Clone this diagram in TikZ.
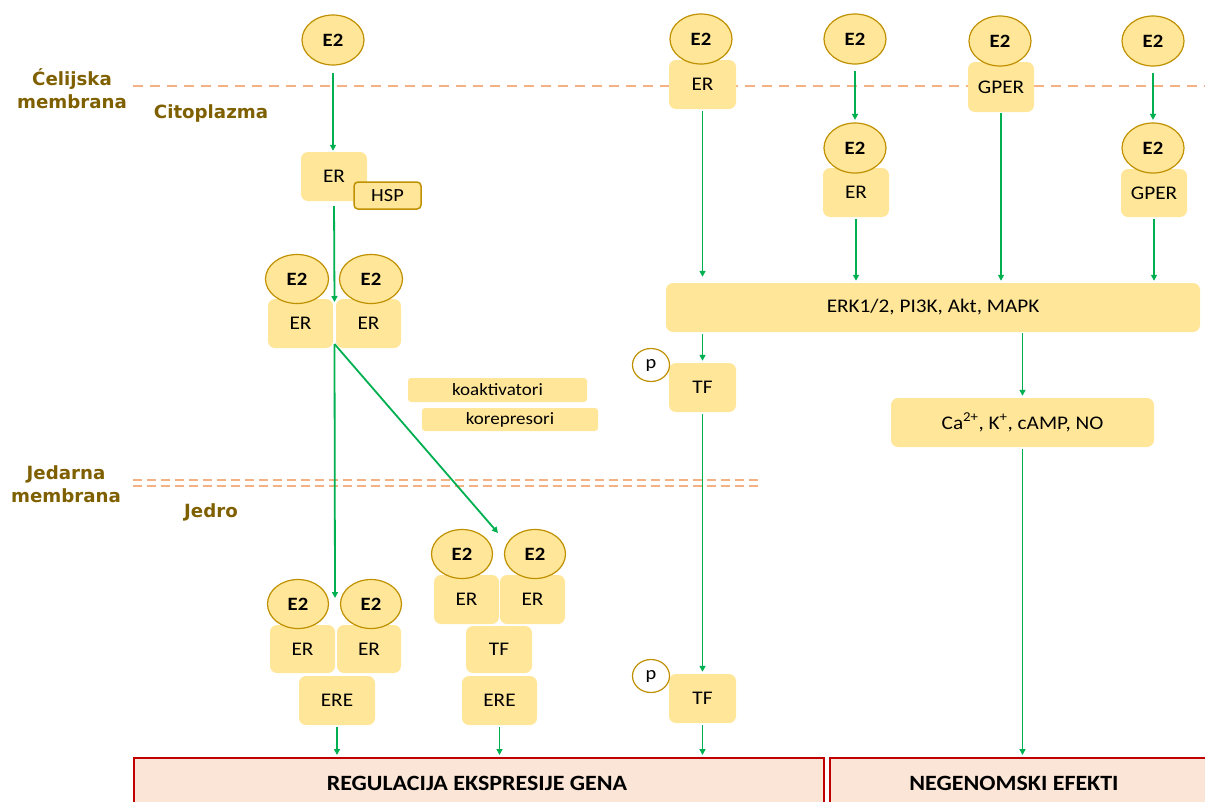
\documentclass[tikz,border=0pt]{standalone}
\usepackage{fontspec}
\setmainfont{Carlito}[FakeStretch=1.1]
\newfontfamily\lblfont{DejaVu Sans}
\usetikzlibrary{shapes.geometric,arrows.meta}
\definecolor{yel}{HTML}{FFE699}
\definecolor{gold}{HTML}{BF9000}
\definecolor{grn}{HTML}{00B050}
\definecolor{memb}{HTML}{F4B183}
\definecolor{olive}{HTML}{7F6000}
\definecolor{pinkbg}{HTML}{FBE5D6}
\definecolor{redb}{HTML}{C00000}
\begin{document}
\begin{tikzpicture}[x=1pt,y=-1pt,
  e2/.style={ellipse, draw=gold, fill=yel, line width=1.2pt, minimum width=62pt, minimum height=50pt, inner sep=0pt, font=\fontsize{18.8}{20}\selectfont\bfseries},
  rbox/.style={rectangle, rounded corners=7pt, fill=yel, minimum width=66pt, minimum height=49pt, inner sep=0pt, font=\fontsize{19.3}{21}\selectfont},
  sbox/.style={rectangle, rounded corners=3pt, fill=yel, inner sep=0pt, font=\fontsize{17.3}{18}\selectfont},
  pcirc/.style={ellipse, draw=gold, fill=white, line width=1.2pt, minimum width=37pt, minimum height=33pt, inner sep=0pt, font=\fontsize{18.5}{18}\selectfont},
  lbl/.style={text=olive, align=center, font=\lblfont\bfseries\fontsize{18.2}{23}\selectfont},
  membl/.style={draw=memb, line width=2pt, dash pattern=on 10pt off 7pt},
  nmembl/.style={draw=memb, line width=2.4pt, dash pattern=on 9pt off 5pt},
  outbox/.style={rectangle, draw=redb, line width=2pt, fill=pinkbg},
  outtxt/.style={font=\fontsize{21.8}{24}\selectfont\bfseries},
  arr/.style={draw=grn, line width=1.8pt, -{Triangle[length=6pt,width=6pt]}}
]
\useasboundingbox (0,0) rectangle (1205,801);
\clip (0,0) rectangle (1205,801);

% membranes
\draw[membl] (133,86) -- (1205,86);
\draw[nmembl] (133,480) -- (762,480);
\draw[nmembl] (133,486) -- (762,486);

% labels
\node[lbl] (lcell) at (72,89) {Ćelijska\\membrana};
\node[lbl] (lcyto) at (211,113) {Citoplazma};
\node[lbl] (lnuc) at (66,484) {Jedarna\\membrana};
\node[lbl] (ljed) at (211,512) {Jedro};

% output boxes
\node[outbox, minimum width=690pt, minimum height=52pt, anchor=north west] (gen) at (133,757) {};
\node[outtxt] (gent) at (477,783) {REGULACIJA EKSPRESIJE GENA};
\node[outbox, minimum width=385pt, minimum height=52pt, anchor=north west] (neg) at (829,757) {};
\node[outtxt] (negt) at (1014,783) {NEGENOMSKI EFEKTI};

% column 1
\node[rbox] (er1) at (334,176.5) {ER};
\node[rectangle, rounded corners=4pt, draw=gold, line width=1.5pt, fill=yel, minimum width=67pt, minimum height=27pt, inner sep=0pt, font=\fontsize{18.5}{18}\selectfont] (hsp) at (387.5,195.5) {HSP};
\node[e2] (e2a) at (333,40) {E2};

\node[rbox, minimum width=65pt] (er2l) at (300.5,323.5) {ER};
\node[rbox, minimum width=65pt] (er2r) at (368.5,323.5) {ER};
\node[e2, minimum width=63pt, minimum height=49pt] (e2pl) at (297,279) {E2};
\node[e2, minimum width=63pt, minimum height=49pt] (e2pr) at (371,279) {E2};
\coordinate (j1top) at (334.5,302);
\coordinate (j1bot) at (334.5,344);

\node[sbox, minimum width=179pt, minimum height=24pt] (koak) at (497.5,390) {koaktivatori};
\node[sbox, minimum width=176pt, minimum height=23pt] (kore) at (510,419.5) {korepresori};

% bottom-left group
\node[rbox, minimum width=65pt, minimum height=48pt] (er5l) at (302.5,649) {ER};
\node[rbox, minimum width=64pt, minimum height=48pt] (er5r) at (369,649) {ER};
\node[e2, minimum width=61pt, minimum height=49pt] (e2bl) at (298,604) {E2};
\node[e2, minimum width=61pt, minimum height=49pt] (e2br) at (371,604) {E2};
\node[rbox, minimum width=76pt] (ere1) at (337,700.5) {ERE};
\coordinate (j2top) at (335,598);

% second group
\node[rbox, minimum width=65pt] (er6l) at (466.5,599.5) {ER};
\node[rbox, minimum width=65pt] (er6r) at (532.5,599.5) {ER};
\node[e2, minimum width=61pt, minimum height=49pt] (e2cl) at (462,554) {E2};
\node[e2, minimum width=61pt, minimum height=49pt] (e2cr) at (535,554) {E2};
\node[rbox, minimum width=66pt, minimum height=47pt] (tf3) at (499,649.5) {TF};
\node[rbox, minimum width=75pt] (ere2) at (499.5,700.5) {ERE};
\coordinate (j3top) at (498,533);

% column 3
\node[rbox, minimum width=67pt] (er3) at (702.5,84.5) {ER};
\node[e2] (e2c) at (701,39) {E2};
\node[rbox, minimum width=534pt] (erk) at (933,307.5) {ERK1/2, PI3K, Akt, MAPK};
\node[rbox, minimum width=67pt] (tf1) at (702.5,387.5) {TF};
\node[pcirc] (p1) at (651,365) {p};
\node[rbox, minimum width=67pt] (tf2) at (702.5,698.5) {TF};
\node[pcirc] (p2) at (651,676) {p};

% column 4
\node[e2] (e2d) at (855,39) {E2};
\node[rbox] (er4) at (856,192.5) {ER};
\node[e2] (e2e) at (855,148) {E2};

% column 5
\node[rbox, minimum height=50pt] (gper1) at (1001,87) {GPER};
\node[e2] (e2f) at (1000,41) {E2};

% column 6
\node[e2] (e2g) at (1153,41) {E2};
\node[rbox, minimum height=48pt] (gper2) at (1154,193) {GPER};
\node[e2] (e2h) at (1153,148) {E2};

\node[rbox, minimum width=263pt] (ca) at (1022.5,422.5) {Ca\textsuperscript{2+}, K\textsuperscript{+}, cAMP, NO};

% arrows
\draw[arr, shorten <=7pt, shorten >=1pt] (e2a.south) -- (e2a.south |- er1.north);
\draw[arr, shorten <=5pt] (er1.south) -- (j1top);
\draw[arr] (j1bot) -- (j2top);
\draw[arr] (j1bot) -- (j3top);
\draw[arr, shorten <=2pt, shorten >=2pt] (ere1.south) -- (ere1.south |- gen.north);
\draw[arr, shorten <=2pt, shorten >=2pt] (ere2.south) -- (ere2.south |- gen.north);

\draw[arr, shorten <=2pt, shorten >=6pt] (er3.south) -- (er3.south |- erk.north);
\draw[arr, shorten <=2pt, shorten >=2pt] (tf1.north |- erk.south) -- (tf1.north);
\draw[arr, shorten <=2pt, shorten >=2pt] (tf1.south) -- (tf2.north);
\draw[arr, shorten <=2pt, shorten >=2pt] (tf2.south) -- (tf2.south |- gen.north);

\draw[arr, shorten <=6pt, shorten >=2.5pt] (e2d.south) -- (e2e.north);
\draw[arr, shorten <=2pt, shorten >=2pt] (er4.south) -- (er4.south |- erk.north);
\draw[arr, shorten <=1pt, shorten >=2pt] (gper1.south) -- (gper1.south |- erk.north);
\draw[arr, shorten <=6pt, shorten >=2.5pt] (e2g.south) -- (e2h.north);
\draw[arr, shorten <=2pt, shorten >=2pt] (gper2.south) -- (gper2.south |- erk.north);

\draw[arr, shorten <=1pt, shorten >=2pt] (erk.south -| ca.north) -- (ca.north);
\draw[arr, shorten <=2pt, shorten >=2pt] (ca.south) -- (ca.south |- neg.north);
\end{tikzpicture}
\end{document}
